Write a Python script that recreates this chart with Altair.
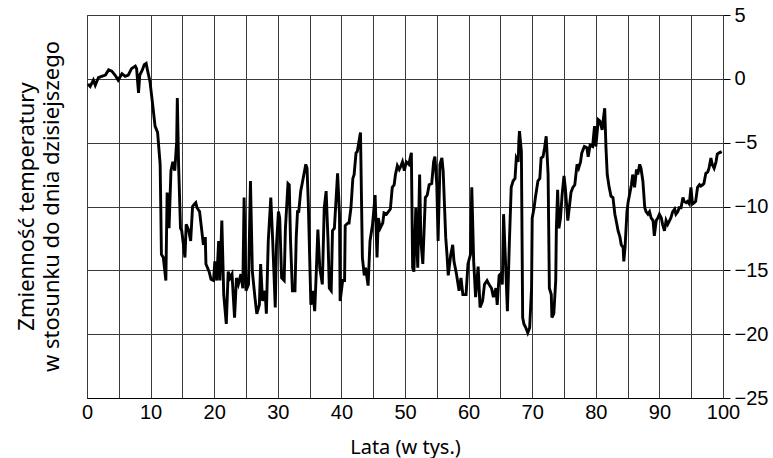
import altair as alt
import pandas as pd

years = [0.15, 0.5, 1.0, 1.3, 1.8, 2.3, 2.9, 3.4, 3.9, 4.4, 4.9, 5.5, 6.0, 6.5, 7.0, 7.6, 7.8, 8.1, 8.3, 8.7,
         9.0, 9.3, 9.5, 9.9, 10.3, 10.7, 11.1, 11.5, 11.6, 11.7, 12.0, 12.4, 12.6, 12.9, 13.2, 13.5, 13.8, 14.1, 14.2, 14.4,
         14.7, 14.9, 15.4, 15.6, 16.0, 16.3, 16.6, 16.9, 17.1, 17.3, 17.7, 18.0, 18.3, 18.6, 18.7, 19.2, 19.5, 19.9, 20.1, 20.4,
         20.7, 20.9, 21.2, 21.5, 21.9, 22.2, 22.5, 22.8, 23.2, 23.5, 23.8, 24.2, 24.5, 24.7, 25.0, 25.4, 25.7, 26.0, 26.4, 26.7,
         27.1, 27.3, 27.6, 28.0, 28.2, 28.5, 28.9, 29.2, 29.6, 29.8, 30.1, 30.3, 30.6, 31.0, 31.2, 31.6, 31.8, 32.0, 32.3, 32.7,
         32.9, 33.1, 33.3, 33.6, 33.8, 34.1, 34.4, 34.6, 34.8, 35.2, 35.5, 35.8, 36.0, 36.3, 36.6, 37.0, 37.3, 37.6, 37.9, 38.1,
         38.4, 38.6, 38.9, 39.2, 39.4, 39.7, 39.8, 40.2, 40.5, 40.6, 41.0, 41.2, 41.5, 41.8, 42.0, 42.3, 42.5, 43.0, 43.3, 43.6,
         43.8, 44.2, 44.5, 44.9, 45.3, 45.6, 45.8, 46.1, 46.5, 46.7, 47.1, 47.7, 48.0, 48.3, 48.5, 48.8, 49.1, 49.3, 49.6, 49.9,
         50.2, 50.6, 51.0, 51.2, 51.4, 51.7, 52.0, 52.3, 52.5, 52.8, 53.2, 53.5, 53.8, 54.2, 54.5, 54.7, 55.0, 55.2, 55.5, 55.8,
         56.0, 56.4, 56.6, 56.8, 57.2, 57.5, 57.7, 58.1, 58.5, 58.8, 59.1, 59.6, 59.9, 60.3, 60.5, 60.8, 61.1, 61.5, 61.8, 62.2,
         62.5, 62.9, 63.2, 63.6, 63.9, 64.3, 64.5, 64.8, 65.0, 65.3, 65.5, 65.8, 66.1, 66.4, 66.7, 67.0, 67.3, 67.5, 67.8, 67.9,
         68.0, 68.3, 68.5, 68.7, 69.0, 69.3, 69.6, 69.9, 70.0, 70.3, 70.5, 70.9, 71.2, 71.4, 71.7, 71.95, 72.2, 72.5, 72.7, 73.0,
         73.1, 73.4, 73.7, 73.8, 74.0, 74.2, 74.45, 74.7, 75.0, 75.2, 75.6, 75.9, 76.1, 76.4, 76.7, 77.05, 77.3, 77.6, 77.8, 78.2,
         78.6, 78.8, 79.1, 79.5, 79.8, 80.0, 80.4, 80.65, 81.0, 81.2, 81.4, 81.6, 81.8, 82.1, 82.4, 82.7, 83.0, 83.2, 83.5, 83.8,
         84.0, 84.3, 84.4, 84.6, 84.9, 85.1, 85.3, 85.6, 85.8, 86.1, 86.4, 86.6, 86.9, 87.1, 87.4, 87.7, 87.9, 88.2, 88.45, 88.7,
         89.0, 89.2, 89.5, 89.75, 90.0, 90.3, 90.5, 90.8, 91.05, 91.3, 91.6, 91.8, 92.1, 92.4, 92.6, 92.9, 93.1, 93.4, 93.7, 93.9,
         94.2, 94.4, 94.7, 94.96, 95.2, 95.5, 95.7, 96.0, 96.3, 96.5, 96.8, 97.0, 97.3, 97.6, 97.8, 98.1, 98.3, 98.6, 98.9, 99.1,
         99.4, 99.8]

temps = [-0.4, -0.6, -0.1, -0.5, 0.1, 0.2, 0.3, 0.7, 0.6, 0.3, -0.1, 0.4, 0.2, 0.3, 0.8, 1.0, 0.8, -1.1, 0.3, 0.7,
         1.1, 1.2, 0.7, -0.2, -1.9, -3.7, -4.2, -6.7, -10.0, -13.75, -14.0, -15.8, -8.9, -11.7, -7.2, -6.5, -7.2, -4.9, -1.5, -6.7,
         -11.7, -11.9, -14.0, -11.4, -11.9, -12.7, -10.0, -9.8, -9.7, -10.1, -10.4, -11.7, -13.0, -12.4, -14.5, -15.1, -15.7, -15.8, -14.3, -15.8,
         -12.7, -15.8, -11.1, -16.9, -19.2, -15.1, -15.6, -15.3, -18.7, -15.6, -16.1, -15.3, -16.4, -9.3, -16.6, -16.1, -8.0, -15.1, -17.1, -18.4,
         -17.7, -14.5, -17.4, -16.6, -18.4, -12.7, -9.3, -12.7, -17.9, -13.0, -10.4, -10.9, -15.6, -15.8, -11.7, -8.2, -8.3, -12.7, -16.6, -16.6,
         -12.4, -10.4, -10.4, -8.8, -8.3, -7.5, -6.7, -7.0, -9.8, -17.7, -16.6, -18.2, -15.8, -11.8, -14.8, -16.1, -10.1, -8.8, -12.7, -16.4,
         -16.6, -11.9, -11.7, -9.1, -7.4, -10.6, -17.4, -15.8, -15.8, -11.5, -11.3, -11.3, -10.1, -7.8, -7.5, -5.8, -5.7, -4.2, -14.0, -15.4,
         -14.8, -16.2, -12.7, -11.4, -9.1, -14.0, -10.9, -11.7, -11.3, -10.5, -10.6, -10.2, -8.5, -8.3, -7.5, -6.8, -7.1, -6.9, -6.5, -7.2,
         -6.5, -6.7, -5.8, -14.8, -15.1, -10.1, -14.8, -7.5, -12.7, -14.5, -9.3, -9.1, -8.3, -8.2, -6.5, -6.1, -8.3, -12.7, -6.7, -6.2,
         -7.2, -12.4, -13.75, -15.4, -13.75, -13.0, -14.3, -15.3, -16.6, -15.6, -16.9, -16.9, -14.5, -13.75, -8.5, -14.3, -17.1, -14.7, -17.9, -17.4,
         -16.1, -15.8, -16.1, -16.4, -17.1, -16.4, -17.7, -15.4, -15.3, -16.1, -10.6, -14.3, -18.2, -13.0, -8.5, -8.0, -7.8, -6.2, -6.5, -4.9,
         -4.1, -5.7, -18.7, -19.2, -19.5, -19.9, -19.5, -16.4, -10.9, -10.1, -9.3, -8.0, -7.8, -6.2, -6.1, -5.4, -4.5, -7.5, -16.4, -16.9,
         -18.7, -18.4, -15.8, -11.7, -8.7, -11.7, -10.9, -9.1, -7.6, -8.5, -11.1, -9.8, -8.9, -8.5, -8.3, -6.7, -7.0, -6.5, -5.8, -5.3,
         -5.4, -6.1, -5.2, -5.3, -3.7, -5.3, -3.2, -3.3, -4.0, -3.1, -2.3, -5.4, -7.5, -8.5, -9.2, -9.3, -10.6, -11.1, -11.9, -12.4,
         -13.0, -13.2, -14.3, -13.2, -10.4, -9.6, -9.1, -8.3, -7.5, -8.5, -7.1, -7.5, -6.7, -7.0, -8.0, -10.1, -10.4, -10.6, -10.4, -10.9,
         -11.1, -12.3, -11.1, -10.9, -10.6, -10.9, -11.4, -11.9, -11.1, -11.4, -11.1, -10.9, -10.4, -10.2, -10.6, -10.4, -10.1, -10.1, -9.3, -9.6,
         -9.7, -9.6, -9.8, -8.5, -9.8, -9.7, -9.6, -8.5, -8.3, -8.4, -8.3, -8.2, -7.4, -7.3, -7.0, -6.2, -6.7, -7.0, -6.5, -5.9,
         -5.8, -5.7]

x_ticks = list(range(0, 101, 5))
y_ticks = list(range(-25, 6, 5))
x_title = "Lata (w tys.)"
y_title = ["Zmienność temperatury", "w stosunku do dnia dzisiejszego"]

df = pd.DataFrame({"lata": years, "temp": temps})

grid_col = "#3a3a3a"

chart = alt.Chart(df).mark_line(color="black", strokeWidth=2.9).encode(
    x=alt.X(
        "lata:Q",
        scale=alt.Scale(domain=[0, 100], nice=False, zero=False),
        axis=alt.Axis(
            values=x_ticks,
            labelExpr="datum.value % 10 == 0 ? datum.label : ''",
            title=x_title,
            grid=True, gridColor=grid_col, gridWidth=1, gridOpacity=1,
            ticks=False,
            domainColor="black", domainWidth=1.2,
            labelFont="Liberation Sans", labelFontSize=20, labelColor="black",
            labelPadding=4, labelFlush=False,
            titleFont="Noto Sans", titleFontSize=20, titleFontWeight="normal",
            titleColor="black", titleY=49, titleBaseline="middle",
        ),
    ),
    y=alt.Y(
        "temp:Q",
        scale=alt.Scale(domain=[-25, 5], nice=False, zero=False),
        axis=alt.Axis(
            orient="right",
            values=y_ticks,
            title=y_title,
            grid=True, gridColor=grid_col, gridWidth=1, gridOpacity=1,
            ticks=True, tickSize=7, tickColor="black", tickWidth=1,
            domainColor=grid_col, domainWidth=1,
            labelFont="Liberation Sans", labelFontSize=20, labelColor="black",
            labelPadding=4, labelFlush=False,
            titleFont="Noto Sans", titleFontSize=22, titleFontWeight="normal",
            titleColor="black", titleAngle=270, titleX=-697, titleY=191,
            titleAlign="center", titleBaseline="middle", titleLineHeight=25,
        ),
    ),
).properties(
    width=636,
    height=383,
    autosize=alt.AutoSizeParams(type="none"),
    padding={"left": 87, "top": 15, "right": 50, "bottom": 60},
).configure_view(stroke=grid_col, strokeWidth=1)

chart.save("out.html", embed_options={"renderer": "svg", "actions": False})
